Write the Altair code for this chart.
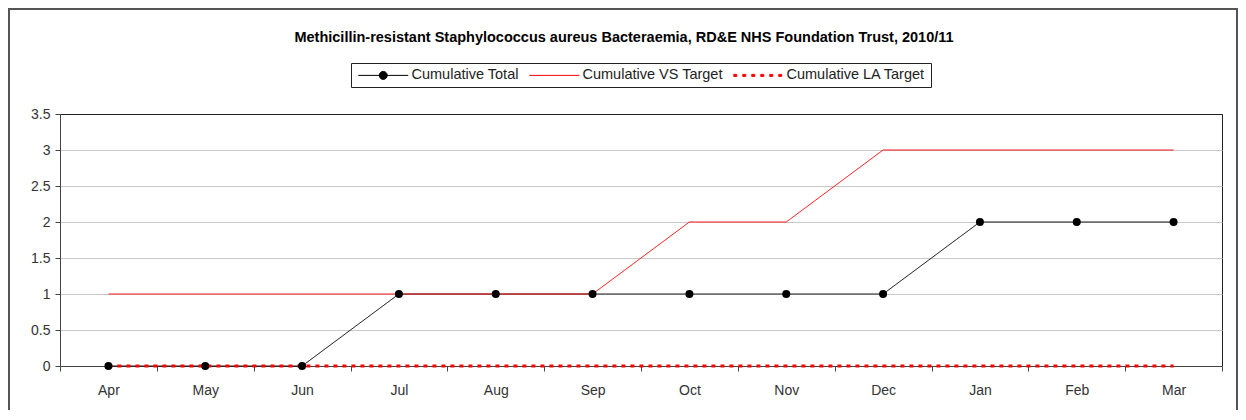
import altair as alt
import pandas as pd

months = ["Apr", "May", "Jun", "Jul", "Aug", "Sep", "Oct", "Nov", "Dec", "Jan", "Feb", "Mar"]
cumulative_total = [0, 0, 0, 1, 1, 1, 1, 1, 1, 2, 2, 2]
cumulative_vs_target = [1, 1, 1, 1, 1, 1, 2, 2, 3, 3, 3, 3]
cumulative_la_target = [0, 0, 0, 0, 0, 0, 0, 0, 0, 0, 0, 0]
series_names = ["Cumulative Total", "Cumulative VS Target", "Cumulative LA Target"]
series_colors = ["#000000", "#ff0000", "#ff0000"]
y_ticks = [0, 0.5, 1, 1.5, 2, 2.5, 3, 3.5]
title_text = "Methicillin-resistant Staphylococcus aureus Bacteraemia, RD&E NHS Foundation Trust, 2010/11"

rows = []
for name, vals in zip(series_names, [cumulative_total, cumulative_vs_target, cumulative_la_target]):
    for m, v in zip(months, vals):
        rows.append({"month": m, "series": name, "value": v})
df = pd.DataFrame(rows)

FONT = "Liberation Sans"

x_enc = alt.X(
    "month:N", sort=months,
    scale=alt.Scale(type="band", paddingInner=0, paddingOuter=0),
    axis=alt.Axis(title=None, labelAngle=0, tickBand="extent", grid=False,
                  tickSize=5, labelPadding=12),
)
y_enc = alt.Y(
    "value:Q",
    scale=alt.Scale(domain=[0, 3.5], nice=False, zero=True),
    axis=alt.Axis(title=None, values=y_ticks, format="~g", grid=True,
                  gridColor={"condition": {"test": "datum.value >= 3.5", "value": "#222222"},
                             "value": "#c8c8c8"},
                  tickSize=5, labelPadding=5),
)

# legend symbol shapes (unit = sqrt(symbolSize)/2 px)
TOTAL_SYM = "M-1,0H9M4.8,0A0.8,0.8 0 1 1 3.2,0A0.8,0.8 0 1 1 4.8,0Z"
LINE_SYM = "M-1,0H9"
DOT_SYM = " ".join(
    "M%.1f,-0.2h0.6v0.4h-0.6Z" % s for s in [-0.9, 0.9, 2.7, 4.5, 6.3, 8.1]
)
legend_shapes = [TOTAL_SYM, LINE_SYM, DOT_SYM]

legend = alt.Legend(
    title=None, orient="none", direction="horizontal", columns=3,
    legendX=291, legendY=-51,
    symbolSize=100, labelOffset=41, columnPadding=8, padding=5,
    strokeColor="#222222", symbolStrokeWidth=1, symbolOpacity=1,
    labelFont=FONT, labelFontSize=14.5, labelColor="#222222",
)

series_scale = alt.Scale(domain=series_names, range=series_colors)

legend_layer = alt.Chart(df).transform_filter("false").mark_point(
    filled=True, opacity=1, size=100, strokeWidth=1
).encode(
    fill=alt.Fill("series:N", scale=series_scale, legend=legend),
    stroke=alt.Stroke("series:N", scale=series_scale, legend=legend),
    shape=alt.Shape("series:N", scale=alt.Scale(domain=series_names, range=legend_shapes), legend=legend),
)

lines = alt.Chart(df).mark_line(clip=False).encode(
    x=x_enc, y=y_enc,
    detail="series:N",
    stroke=alt.condition(alt.datum.series == "Cumulative Total", alt.value("#000000"), alt.value("#ff0000")),
    strokeDash=alt.condition(alt.datum.series == "Cumulative LA Target", alt.value([4, 5]), alt.value([1, 0])),
    strokeWidth=alt.condition(alt.datum.series == "Cumulative LA Target", alt.value(3), alt.value(1)),
)

points = alt.Chart(df).transform_filter(
    alt.datum.series == "Cumulative Total"
).mark_circle(size=64, color="#000000", opacity=1).encode(x=x_enc, y=y_enc)

frame = alt.Chart(pd.DataFrame({"k": [0]})).mark_rect(
    fill="transparent", stroke="#555555", strokeWidth=2
).encode(x=alt.value(-51), x2=alt.value(1177), y=alt.value(-105), y2=alt.value(300))

chart = alt.layer(lines, points, legend_layer, frame).properties(
    width=1162, height=252,
    title=alt.Title(title_text, font=FONT, fontSize=14.5, fontWeight="bold", color="#000000",
                    anchor="middle", frame="group", baseline="middle", dx=-17, offset=-44),
    autosize=alt.AutoSizeParams(type="none"),
    padding={"left": 52, "top": 106, "right": 16, "bottom": 44},
    background="white",
).configure_view(
    stroke="#222222", strokeWidth=1
).configure_axis(
    domainColor="#444444", tickColor="#444444",
    labelFont=FONT, labelFontSize=14, labelColor="#333333",
)

chart.save("out.html", embed_options={"renderer": "svg", "actions": False})
